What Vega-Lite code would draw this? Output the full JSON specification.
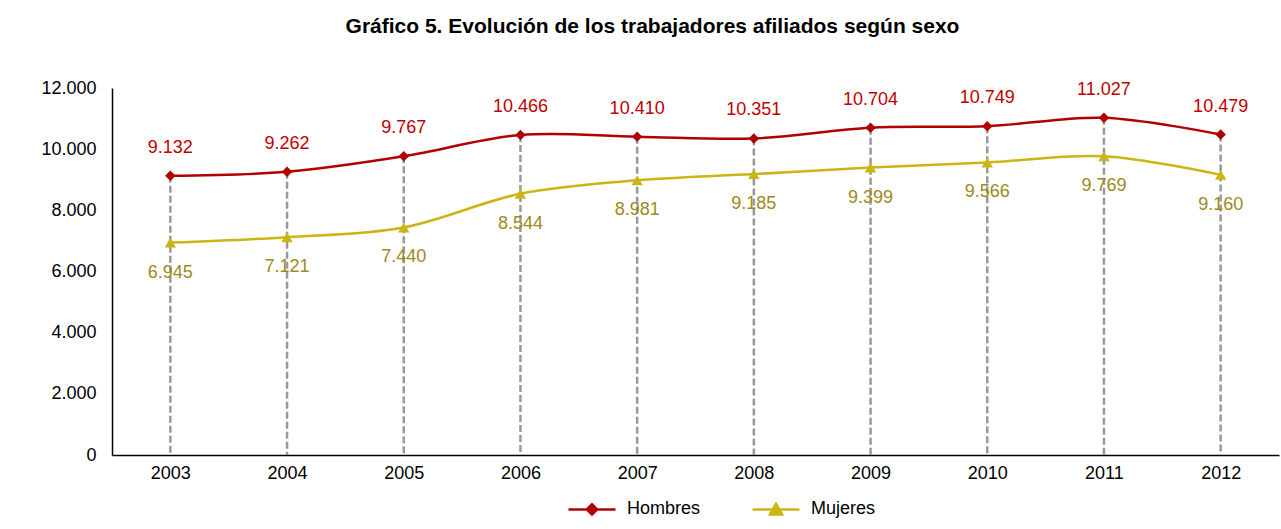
{
  "$schema": "https://vega.github.io/schema/vega-lite/v6.json",
  "autosize": "none",
  "width": 1167,
  "height": 367,
  "padding": {"left": 112, "top": 88, "right": 2, "bottom": 74},
  "background": "white",
  "config": {
    "locale": {"number": {"decimal": ",", "thousands": ".", "grouping": [3], "currency": ["", " €"]}},
    "font": "Liberation Sans",
    "view": {"stroke": null},
    "axis": {"labelFont": "Liberation Sans", "labelFontSize": 18, "labelColor": "#000000", "grid": false, "domainColor": "#000000", "domainWidth": 1.5, "ticks": false, "title": null}
  },
  "title": {
    "text": "Gráfico 5. Evolución de los trabajadores afiliados según sexo",
    "font": "Liberation Sans",
    "fontSize": 21,
    "fontWeight": "bold",
    "color": "#000000",
    "anchor": "middle",
    "dx": -43,
    "offset": 42
  },
  "data": {
    "values": [
      {"year": "2003", "sexo": "Hombres", "value": 9132},
      {"year": "2004", "sexo": "Hombres", "value": 9262},
      {"year": "2005", "sexo": "Hombres", "value": 9767},
      {"year": "2006", "sexo": "Hombres", "value": 10466},
      {"year": "2007", "sexo": "Hombres", "value": 10410},
      {"year": "2008", "sexo": "Hombres", "value": 10351},
      {"year": "2009", "sexo": "Hombres", "value": 10704},
      {"year": "2010", "sexo": "Hombres", "value": 10749},
      {"year": "2011", "sexo": "Hombres", "value": 11027},
      {"year": "2012", "sexo": "Hombres", "value": 10479},
      {"year": "2003", "sexo": "Mujeres", "value": 6945},
      {"year": "2004", "sexo": "Mujeres", "value": 7121},
      {"year": "2005", "sexo": "Mujeres", "value": 7440},
      {"year": "2006", "sexo": "Mujeres", "value": 8544},
      {"year": "2007", "sexo": "Mujeres", "value": 8981},
      {"year": "2008", "sexo": "Mujeres", "value": 9185},
      {"year": "2009", "sexo": "Mujeres", "value": 9399},
      {"year": "2010", "sexo": "Mujeres", "value": 9566},
      {"year": "2011", "sexo": "Mujeres", "value": 9769},
      {"year": "2012", "sexo": "Mujeres", "value": 9160}
    ]
  },
  "encoding": {
    "x": {
      "field": "year", "type": "ordinal",
      "scale": {"type": "point", "padding": 0.5},
      "axis": {"labelAngle": 0, "labelPadding": 9}
    }
  },
  "layer": [
    {
      "transform": [{"filter": "datum.sexo === 'Hombres'"}],
      "mark": {"type": "rule", "color": "#999999", "strokeWidth": 2.5, "strokeDash": [7, 3]},
      "encoding": {
        "y": {"field": "value", "type": "quantitative"},
        "y2": {"datum": 0}
      }
    },
    {
      "mark": {"type": "line", "strokeWidth": 2.5, "interpolate": "catmull-rom"},
      "encoding": {
        "y": {
          "field": "value", "type": "quantitative",
          "scale": {"domain": [0, 12000], "nice": false},
          "axis": {"values": [0, 2000, 4000, 6000, 8000, 10000, 12000], "format": ",d", "labelPadding": 16}
        },
        "color": {
          "field": "sexo", "type": "nominal",
          "scale": {"domain": ["Hombres", "Mujeres"], "range": ["#B00000", "#CCB414"]},
          "legend": {
            "title": null,
            "orient": "none",
            "direction": "horizontal",
            "legendX": 455,
            "legendY": 396,
            "labelFont": "Liberation Sans",
            "labelFontSize": 18,
            "labelColor": "#000000",
            "symbolSize": 2209,
            "symbolStrokeWidth": 2.5,
            "labelOffset": 10,
            "columnPadding": 46,
            "encode": {
              "symbols": {
                "update": {
                  "shape": {"signal": "datum.value === 'Hombres' ? 'M-1,0H1M-0.22,0L0,-0.22L0.22,0L0,0.22Z' : 'M-1,0H1M-0.26,0.22L0,-0.24L0.26,0.22Z'"},
                  "fill": {"signal": "datum.value === 'Hombres' ? '#B00000' : '#CCB414'"},
                  "stroke": {"signal": "datum.value === 'Hombres' ? '#B00000' : '#CCB414'"},
                  "opacity": {"value": 1}
                }
              }
            }
          }
        }
      }
    },
    {
      "transform": [{"filter": "datum.sexo === 'Hombres'"}],
      "mark": {"type": "point", "filled": true, "opacity": 1, "shape": "diamond", "size": 110},
      "encoding": {
        "y": {"field": "value", "type": "quantitative"},
        "color": {"field": "sexo", "type": "nominal", "legend": null}
      }
    },
    {
      "transform": [{"filter": "datum.sexo === 'Mujeres'"}],
      "mark": {"type": "point", "filled": true, "opacity": 1, "shape": "triangle-up", "size": 130},
      "encoding": {
        "y": {"field": "value", "type": "quantitative"},
        "color": {"field": "sexo", "type": "nominal", "legend": null}
      }
    },
    {
      "transform": [{"filter": "datum.sexo === 'Hombres'"}],
      "mark": {"type": "text", "dy": -28, "fontSize": 18, "font": "Liberation Sans", "color": "#C00000"},
      "encoding": {
        "y": {"field": "value", "type": "quantitative"},
        "text": {"field": "value", "type": "quantitative", "format": ",d"}
      }
    },
    {
      "transform": [{"filter": "datum.sexo === 'Mujeres'"}],
      "mark": {"type": "text", "dy": 30, "fontSize": 18, "font": "Liberation Sans", "color": "#9D8A20"},
      "encoding": {
        "y": {"field": "value", "type": "quantitative"},
        "text": {"field": "value", "type": "quantitative", "format": ",d"}
      }
    }
  ]
}
